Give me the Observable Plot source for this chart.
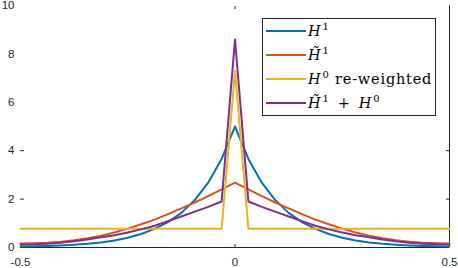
<!DOCTYPE html>
<html><head><meta charset="utf-8">
<script src="https://cdn.jsdelivr.net/npm/d3@7"></script>
<script src="https://cdn.jsdelivr.net/npm/@observablehq/plot@0.6"></script>
<style>body{margin:0;background:#fff}</style>
</head><body><div id="chart"></div>
<script>
const xs = [-0.5,-0.46875,-0.4375,-0.40625,-0.375,-0.34375,-0.3125,-0.28125,-0.25,-0.21875,-0.1875,-0.15625,-0.125,-0.09375,-0.0625,-0.03125,0,0.03125,0.0625,0.09375,0.125,0.15625,0.1875,0.21875,0.25,0.28125,0.3125,0.34375,0.375,0.40625,0.4375,0.46875,0.5];
const h1 = [0.04,0.05,0.065,0.085,0.115,0.155,0.21,0.29,0.40,0.56,0.77,1.05,1.43,1.96,2.68,3.66,5.0,3.66,2.68,1.96,1.43,1.05,0.77,0.56,0.40,0.29,0.21,0.155,0.115,0.085,0.065,0.05,0.04];
const h1t = [0.17,0.18,0.20,0.24,0.30,0.38,0.49,0.62,0.78,0.96,1.15,1.38,1.62,1.86,2.12,2.40,2.68,2.40,2.12,1.86,1.62,1.38,1.15,0.96,0.78,0.62,0.49,0.38,0.30,0.24,0.20,0.18,0.17];
const h0 = [0.77,0.77,0.77,0.77,0.77,0.77,0.77,0.77,0.77,0.77,0.77,0.77,0.77,0.77,0.77,0.77,7.3,0.77,0.77,0.77,0.77,0.77,0.77,0.77,0.77,0.77,0.77,0.77,0.77,0.77,0.77,0.77,0.77];
const h1th0 = [0.12,0.13,0.16,0.20,0.26,0.33,0.42,0.51,0.62,0.75,0.90,1.09,1.28,1.48,1.68,1.90,8.6,1.90,1.68,1.48,1.28,1.09,0.90,0.75,0.62,0.51,0.42,0.33,0.26,0.20,0.16,0.13,0.12];
const seriesNames = ["H1", "H~1", "H0 re-weighted", "H~1 + H0"];
const seriesValues = [h1, h1t, h0, h1th0];
const colors = ["#0072BD", "#D95319", "#EDB120", "#7E2F8E"];
const xTicks = [-0.5, 0, 0.5];
const yTicks = [0, 2, 4, 6, 8, 10];
// legend labels as (text, style) segments
const legendLabels = [
  [["H","i"],["1","s"]],
  [["H\u0303","i"],["1","s"]],
  [["H","i"],["0","s"],[" re-weighted","r"]],
  [["H\u0303","i"],["1","s"],["\u2002+\u2002","r"],["H","i"],["0","s"]]
];

const data = seriesNames.flatMap((name, i) => xs.map((x, j) => ({x, y: seriesValues[i][j], series: name})));

const axisColor = "#262626";
const plot = Plot.plot({
  width: 458, height: 268,
  marginLeft: 20, marginRight: 9, marginTop: 5, marginBottom: 21,
  style: {fontFamily: "'Liberation Sans', Arial, sans-serif", fontSize: "11.5px", color: axisColor, background: "#fff"},
  x: {domain: [-0.5, 0.5]},
  y: {domain: [0, 10]},
  color: {domain: seriesNames, range: colors},
  marks: [
    Plot.ruleY([0], {stroke: axisColor}),
    Plot.ruleX([0.5], {stroke: axisColor}),
    Plot.axisY({ticks: yTicks, tickSize: 0, tickPadding: 6, label: null, tickFormat: d3.format("d")}),
    Plot.axisY({ticks: [2, 4], tickSize: -4, label: null, tickFormat: () => ""}),
    Plot.axisY({anchor: "right", ticks: [2, 4], tickSize: -4, label: null, tickFormat: () => ""}),
    Plot.axisX({ticks: xTicks, tickSize: 0, tickPadding: 10, label: null, tickFormat: d => String(d)}),
    Plot.axisX({ticks: [0], tickSize: -3, label: null, tickFormat: () => ""}),
    Plot.axisX({anchor: "top", ticks: [0], tickSize: -3, label: null, tickFormat: () => ""}),
    Plot.line(data, {x: "x", y: "y", z: "series", stroke: "series", strokeWidth: 2, strokeLinejoin: "round"})
  ]
});
document.getElementById("chart").append(plot);

// legend inside the axes (upper right)
const svg = d3.select(plot);
const lg = svg.append("g").attr("text-anchor", "start");
lg.append("rect").attr("x", 262.5).attr("y", 18.5).attr("width", 173).attr("height", 97)
  .attr("fill", "#fff").attr("stroke", axisColor).attr("stroke-width", 1);
seriesNames.forEach((name, i) => {
  const yy = 31 + i * 24;
  lg.append("line").attr("x1", 266).attr("x2", 306).attr("y1", yy).attr("y2", yy)
    .attr("stroke", colors[i]).attr("stroke-width", 2);
  const t = lg.append("text").attr("x", 308).attr("y", yy + 4.5).attr("text-anchor", "start")
    .attr("font-family", "'DejaVu Serif', 'Liberation Serif', serif").attr("font-size", 14.5)
    .attr("letter-spacing", 0.8).attr("fill", "#000").attr("xml:space", "preserve").style("white-space", "pre");
  let prevSup = false;
  legendLabels[i].forEach(([s, st]) => {
    const ts = t.append("tspan").text(s);
    if (st === "i") ts.attr("font-style", "italic");
    if (st === "s") ts.attr("font-size", 10).attr("dy", -6).attr("dx", 1);
    else if (prevSup) ts.attr("dy", 6);
    prevSup = st === "s";
  });
});
</script>
</body></html>
